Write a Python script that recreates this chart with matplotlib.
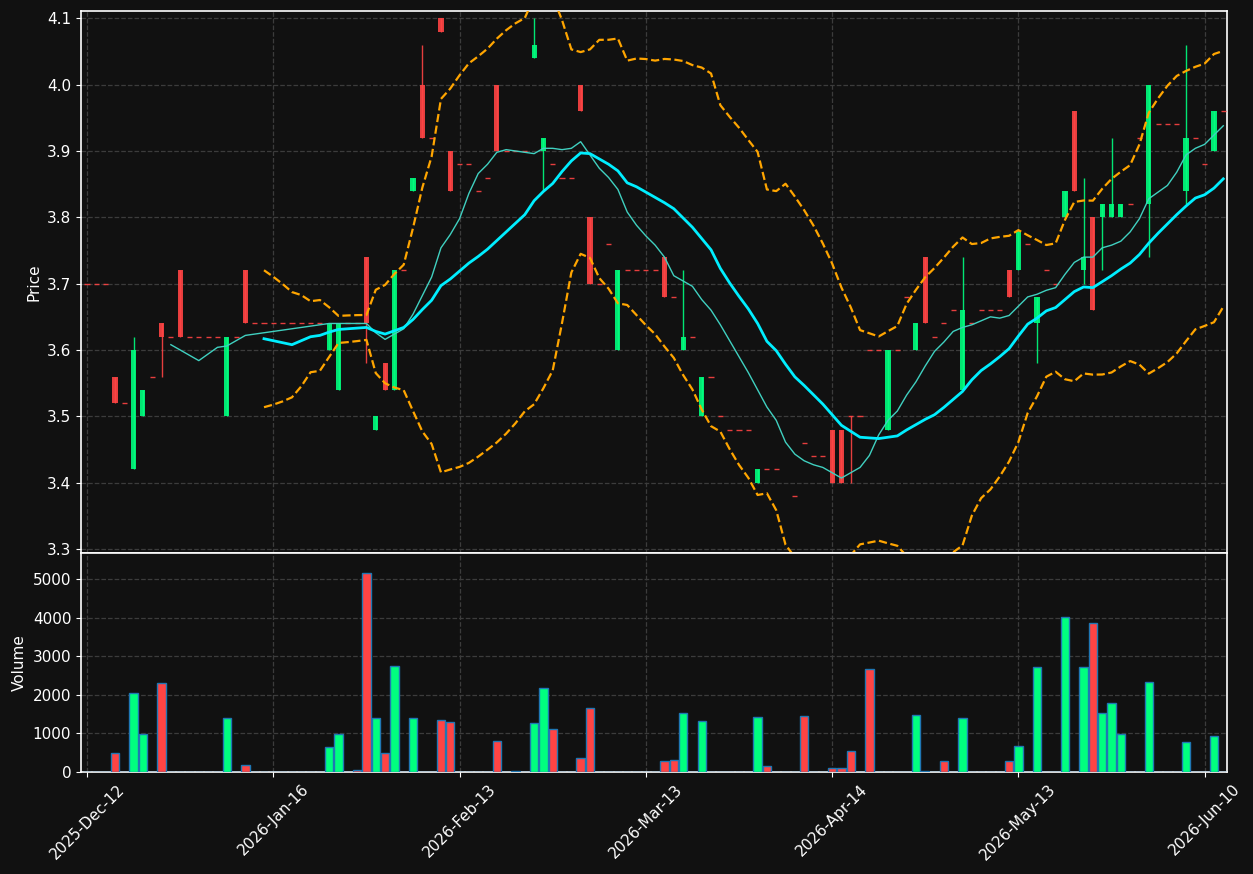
import numpy as np
import pandas as pd
import matplotlib
matplotlib.use("Agg")
import matplotlib.pyplot as plt
from matplotlib.ticker import FormatStrFormatter

BG = "#111111"
UP = "#00ff7f"
DOWN = "#ff4444"

# daily OHLCV, one row per trading day
tick_labels = ["2025-Dec-12", "2026-Jan-16", "2026-Feb-13", "2026-Mar-13",
               "2026-Apr-14", "2026-May-13", "2026-Jun-10"]

opens = [
    3.70, 3.70, 3.70, 3.56, 3.52, 3.42, 3.50, 3.56, 3.64, 3.62,
    3.72, 3.62, 3.62, 3.62, 3.62, 3.50, 3.62, 3.72, 3.64, 3.64,
    3.64, 3.64, 3.64, 3.64, 3.64, 3.64, 3.60, 3.54, 3.64, 3.64,
    3.74, 3.48, 3.58, 3.54, 3.72, 3.84, 4.00, 3.92, 4.10, 3.90,
    3.88, 3.88, 3.84, 3.86, 4.00, 3.90, 3.90, 3.90, 4.04, 3.90,
    3.88, 3.86, 3.86, 4.00, 3.80, 3.70, 3.76, 3.60, 3.72, 3.72,
    3.72, 3.72, 3.74, 3.68, 3.60, 3.62, 3.50, 3.56, 3.50, 3.48,
    3.48, 3.48, 3.40, 3.42, 3.42, 3.29, 3.38, 3.46, 3.44, 3.44,
    3.48, 3.48, 3.50, 3.50, 3.60, 3.60, 3.48, 3.60, 3.68, 3.60,
    3.74, 3.62, 3.64, 3.66, 3.54, 3.64, 3.66, 3.66, 3.66, 3.72,
    3.72, 3.76, 3.64, 3.72, 3.70, 3.80, 3.96, 3.72, 3.80, 3.80,
    3.80, 3.80, 3.82, 3.92, 3.82, 3.94, 3.94, 3.94, 3.84, 3.92,
    3.88, 3.90, 3.96,
]
highs = [
    3.70, 3.70, 3.70, 3.56, 3.52, 3.62, 3.54, 3.56, 3.64, 3.62,
    3.72, 3.62, 3.62, 3.62, 3.62, 3.62, 3.62, 3.72, 3.64, 3.64,
    3.64, 3.64, 3.64, 3.64, 3.64, 3.64, 3.64, 3.64, 3.64, 3.64,
    3.74, 3.50, 3.58, 3.72, 3.72, 3.86, 4.06, 3.92, 4.10, 3.90,
    3.88, 3.88, 3.84, 3.86, 4.00, 3.90, 3.90, 3.90, 4.10, 3.92,
    3.88, 3.86, 3.86, 4.00, 3.80, 3.70, 3.76, 3.72, 3.72, 3.72,
    3.72, 3.72, 3.74, 3.68, 3.72, 3.62, 3.56, 3.56, 3.50, 3.48,
    3.48, 3.48, 3.42, 3.42, 3.42, 3.29, 3.38, 3.46, 3.44, 3.44,
    3.48, 3.48, 3.50, 3.50, 3.60, 3.60, 3.60, 3.60, 3.68, 3.64,
    3.74, 3.62, 3.64, 3.66, 3.74, 3.64, 3.66, 3.66, 3.66, 3.72,
    3.78, 3.76, 3.68, 3.72, 3.70, 3.84, 3.96, 3.86, 3.80, 3.82,
    3.92, 3.82, 3.82, 3.92, 4.00, 3.94, 3.94, 3.94, 4.06, 3.92,
    3.88, 3.96, 3.96,
]
lows = [
    3.70, 3.70, 3.70, 3.52, 3.52, 3.42, 3.50, 3.56, 3.56, 3.62,
    3.62, 3.62, 3.62, 3.62, 3.62, 3.50, 3.62, 3.64, 3.64, 3.64,
    3.64, 3.64, 3.64, 3.64, 3.64, 3.64, 3.60, 3.54, 3.64, 3.64,
    3.58, 3.48, 3.54, 3.54, 3.72, 3.84, 3.92, 3.92, 4.08, 3.84,
    3.88, 3.88, 3.84, 3.86, 3.90, 3.90, 3.90, 3.90, 4.04, 3.84,
    3.88, 3.86, 3.86, 3.96, 3.70, 3.70, 3.76, 3.60, 3.72, 3.72,
    3.72, 3.72, 3.68, 3.68, 3.60, 3.62, 3.50, 3.56, 3.50, 3.48,
    3.48, 3.48, 3.40, 3.42, 3.42, 3.29, 3.38, 3.46, 3.44, 3.44,
    3.40, 3.40, 3.40, 3.50, 3.60, 3.60, 3.48, 3.60, 3.68, 3.60,
    3.64, 3.62, 3.64, 3.66, 3.54, 3.64, 3.66, 3.66, 3.66, 3.68,
    3.72, 3.76, 3.58, 3.72, 3.70, 3.80, 3.84, 3.70, 3.66, 3.72,
    3.80, 3.80, 3.82, 3.92, 3.74, 3.94, 3.94, 3.94, 3.82, 3.92,
    3.88, 3.90, 3.96,
]
closes = [
    3.70, 3.70, 3.70, 3.52, 3.52, 3.60, 3.54, 3.56, 3.62, 3.62,
    3.62, 3.62, 3.62, 3.62, 3.62, 3.62, 3.62, 3.64, 3.64, 3.64,
    3.64, 3.64, 3.64, 3.64, 3.64, 3.64, 3.64, 3.64, 3.64, 3.64,
    3.64, 3.50, 3.54, 3.72, 3.72, 3.86, 3.92, 3.92, 4.08, 3.84,
    3.88, 3.88, 3.84, 3.86, 3.90, 3.90, 3.90, 3.90, 4.06, 3.92,
    3.88, 3.86, 3.86, 3.96, 3.70, 3.70, 3.76, 3.72, 3.72, 3.72,
    3.72, 3.72, 3.68, 3.68, 3.62, 3.62, 3.56, 3.56, 3.50, 3.48,
    3.48, 3.48, 3.42, 3.42, 3.42, 3.29, 3.38, 3.46, 3.44, 3.44,
    3.40, 3.40, 3.50, 3.50, 3.60, 3.60, 3.60, 3.60, 3.68, 3.64,
    3.64, 3.62, 3.64, 3.66, 3.66, 3.64, 3.66, 3.66, 3.66, 3.68,
    3.78, 3.76, 3.68, 3.72, 3.70, 3.84, 3.84, 3.74, 3.66, 3.82,
    3.82, 3.82, 3.82, 3.92, 4.00, 3.94, 3.94, 3.94, 3.92, 3.92,
    3.88, 3.96, 3.96,
]
volumes = [
    0, 0, 0, 490, 0, 2040, 990, 0, 2300, 0,
    0, 0, 0, 0, 0, 1390, 0, 175, 0, 0,
    0, 0, 0, 0, 0, 0, 650, 990, 0, 45,
    5170, 1390, 490, 2750, 0, 1410, 0, 0, 1360, 1310,
    0, 0, 0, 0, 810, 0, 15, 0, 1280, 2170,
    1120, 0, 0, 360, 1650, 0, 0, 0, 0, 0,
    0, 0, 280, 310, 1540, 0, 1330, 0, 0, 0,
    0, 0, 1440, 150, 0, 0, 0, 1460, 0, 0,
    95, 95, 545, 0, 2680, 0, 0, 0, 0, 1490,
    15, 0, 280, 0, 1410, 0, 0, 0, 0, 280,
    675, 0, 2730, 0, 0, 4020, 0, 2730, 3860, 1520,
    1780, 990, 0, 0, 2330, 0, 0, 0, 780, 0,
    0, 940, 0,
]

df = pd.DataFrame({"Open": opens, "High": highs, "Low": lows,
                   "Close": closes, "Volume": volumes})
x = np.arange(len(df))
up = df["Close"] > df["Open"]
colors = np.where(up, UP, DOWN)

# indicators
ma10 = df["Close"].rolling(10).mean()
ma20 = df["Close"].rolling(20).mean()
std20 = df["Close"].rolling(20).std()
bb_up = ma20 + 2 * std20
bb_lo = ma20 - 2 * std20

fig = plt.figure(figsize=(12.53, 8.74), dpi=100, facecolor=BG)
W, H = 1253, 874
ax1 = fig.add_axes([81 / W, 1 - 553 / H, 1146 / W, 542 / H])
ax2 = fig.add_axes([81 / W, 1 - 772 / H, 1146 / W, 219 / H], sharex=ax1)

for ax in (ax1, ax2):
    ax.set_facecolor(BG)
    ax.grid(True, color="#3c3c3c", linestyle="--", linewidth=0.9)
    ax.set_axisbelow(True)
    for s in ax.spines.values():
        s.set_color("white")
        s.set_linewidth(1.2)
    ax.tick_params(colors="white", labelsize=11)

# candles
body_w = 0.55
ax1.vlines(x, df["Low"], df["High"], colors=colors, linewidth=1, alpha=0.9, zorder=2)
flat = df["Close"] == df["Open"]
ax1.bar(x[~flat], (df["Close"] - df["Open"]).abs()[~flat],
        bottom=np.minimum(df["Open"], df["Close"])[~flat],
        width=body_w, color=colors[~flat], alpha=0.9, zorder=3)
ax1.hlines(df["Close"][flat], x[flat] - body_w / 2, x[flat] + body_w / 2,
           colors=colors[flat], linewidth=1, alpha=0.9, zorder=3)

ax1.plot(x, ma10, color="#40d0c0", linewidth=1, zorder=4)
ax1.plot(x, ma20, color="#00eeff", linewidth=2, zorder=4)
ax1.plot(x, bb_up, color="orange", linestyle="--", linewidth=1.6, zorder=4)
ax1.plot(x, bb_lo, color="orange", linestyle="--", linewidth=1.6, zorder=4)

ax1.set_ylim(3.294, 4.111)
ax1.set_yticks(np.arange(3.3, 4.11, 0.1))
ax1.yaxis.set_major_formatter(FormatStrFormatter("%.1f"))
ax1.set_ylabel("Price", color="white", fontsize=11)
ax1.tick_params(axis="x", labelbottom=False)

# volume
ax2.bar(x, df["Volume"], width=0.9, color=colors, edgecolor="#1f77b4",
        linewidth=1, zorder=3)
ax2.set_ylim(0, df["Volume"].max() * 1.1)
ax2.set_yticks(np.arange(0, 5001, 1000))
ax2.set_ylabel("Volume", color="white", fontsize=11)

ticks = np.arange(0, len(df), 20)
ax2.set_xticks(ticks)
ax2.set_xticklabels(tick_labels, rotation=45, ha="center")
ax2.set_xlim(-0.65, 122.4)

fig.savefig("out.png", dpi=100, facecolor=BG)
